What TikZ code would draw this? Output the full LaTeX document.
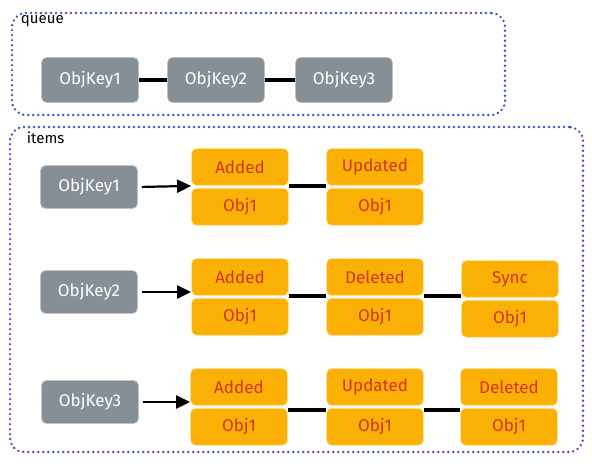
\documentclass[tikz,border=0pt]{standalone}
\usepackage{fontspec}
\setmainfont{Fira Sans}
\usepackage{tikz}
\usetikzlibrary{positioning, arrows.meta, calc}

\definecolor{keygray}{RGB}{134,142,150}
\definecolor{keyedge}{RGB}{190,196,202}
\definecolor{stateorange}{RGB}{250,176,5}
\definecolor{stateedge}{RGB}{255,226,150}
\definecolor{statetext}{RGB}{212,52,30}
\definecolor{groupblue}{RGB}{59,80,205}

\begin{document}
\begin{tikzpicture}[
        x=1pt, y=-1pt,
        font=\fontsize{17}{19}\selectfont,
        group/.style={draw=groupblue, line width=2.6pt, dash pattern=on 0.1pt off 4.9pt, line cap=round, rounded corners=14pt},
        grouplabel/.style={anchor=north west, font=\fontsize{15}{17}\selectfont, inner sep=0pt},
        key/.style={draw=keyedge, line width=0.8pt, fill=keygray, text=white, rounded corners=5pt, minimum width=97pt, minimum height=#1, inner sep=0pt},
        key/.default=43pt,
        state/.style={draw=stateedge, line width=0.8pt, fill=stateorange, text=statetext, rounded corners=5pt, minimum width=97pt, minimum height=37pt, inner sep=0pt},
        link/.style={line width=3.4pt, black},
        arr/.style={-{Triangle[length=14pt, width=13pt]}, line width=2.2pt, shorten <=4pt},
    ]
    \useasboundingbox (0,0) rectangle (592,464);

    % Groups
    \node[group, minimum width=493pt, minimum height=102pt] (queue) at (258.5,64) {};
    \node[grouplabel] at ($(queue.north west)+(10,4)$) {queue};
    \node[group, minimum width=573pt, minimum height=325pt] (items) at (296.5,289.5) {};
    \node[grouplabel] at ($(items.north west)+(18,6)$) {items};

    % Queue
    \node[key=45pt] (qkey1) at (90,80) {ObjKey1};
    \node[key=45pt] (qkey2) at (216,80) {ObjKey2};
    \node[key=45pt] (qkey3) at (344,80) {ObjKey3};
    \draw[link] (qkey1) -- (qkey2);
    \draw[link] (qkey2) -- (qkey3);

    % Items: ObjKey1
    \node[key] (key1) at (89,187) {ObjKey1};
    \node[state] (addA) at (240,167) {Added};
    \node[state, below=2pt of addA] (objA1) {Obj1};
    \node[state] (updA) at (375,167) {Updated};
    \node[state, below=2pt of updA] (objA2) {Obj1};
    \draw[arr] (key1.east) -- (addA.south west);
    \draw[link] (addA.south east) -- (updA.south west);

    % Items: ObjKey2
    \node[key] (key2) at (89,292) {ObjKey2};
    \node[state] (addB) at (240,277) {Added};
    \node[state, below=2pt of addB] (objB1) {Obj1};
    \node[state] (delB) at (375,277) {Deleted};
    \node[state, below=2pt of delB] (objB2) {Obj1};
    \node[state] (syncB) at (510,279) {Sync};
    \node[state, below=2pt of syncB] (objB3) {Obj1};
    \draw[arr] (key2.east) -- (key2.east -| addB.west);
    \draw[link] (addB.south east) -- (delB.south west);
    \draw[link] (delB.south east) -- (delB.south east -| syncB.west);

    % Items: ObjKey3
    \node[key] (key3) at (90,402) {ObjKey3};
    \node[state] (addC) at (239,387) {Added};
    \node[state, below=2pt of addC] (objC1) {Obj1};
    \node[state] (updC) at (375,387) {Updated};
    \node[state, below=2pt of updC] (objC2) {Obj1};
    \node[state] (delC) at (509,387) {Deleted};
    \node[state, below=2pt of delC] (objC3) {Obj1};
    \draw[arr] (key3.east) -- (key3.east -| addC.west);
    \draw[link] ($(objC1.north east)+(0,2)$) -- ($(objC2.north west)+(0,2)$);
    \draw[link] ($(objC2.north east)+(0,2)$) -- ($(objC3.north west)+(0,2)$);
\end{tikzpicture}
\end{document}
